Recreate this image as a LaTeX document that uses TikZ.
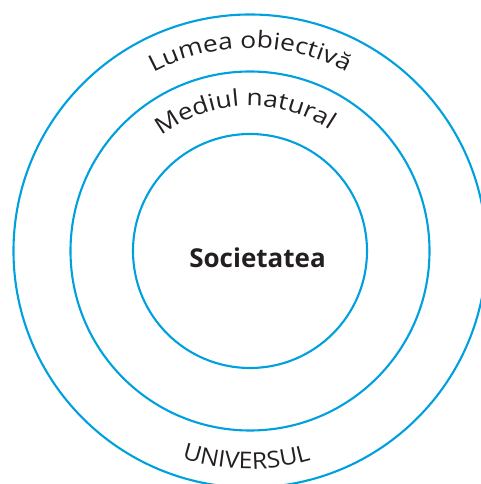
\documentclass[tikz,border=0pt]{standalone}
\usepackage{fontspec}
\setmainfont{Open Sans}
\newfontfamily\arcfam[FakeStretch=1.15]{Open Sans}
\newfontfamily\capfam[FakeStretch=1.07]{Open Sans}
\usetikzlibrary{decorations.text}
\definecolor{albastru}{RGB}{0,160,222}
\definecolor{textgri}{RGB}{35,31,32}
\newcommand{\arcfont}{\arcfam\fontsize{23}{27}\selectfont}
\newcommand{\capfont}{\capfam\fontsize{23}{27}\selectfont}

\begin{document}
\begin{tikzpicture}[x=1pt, y=1pt,
    cerc/.style={draw=albastru, line width=2.1pt},
    arctext/.style={decorate, decoration={text along path, text align=center, text color=textgri}}]
        % Margini
        \useasboundingbox (-250,-233) rectangle (231,251);
        \clip (-250,-233) rectangle (231,251);

        % Cercuri
        \draw[cerc] (0,0) circle (236.5pt);
        \draw[cerc] (0,0) circle (179.5pt);
        \draw[cerc] (0,0) circle (117pt);

        % Etichete
        \node[anchor=base, font=\bfseries\fontsize{26}{31}\selectfont, text=textgri] (soc) at (7.5,-17) {Societatea};
        \path[arctext, decoration={text={|\arcfont|Lumea obiectivă}}]
            (150:203pt) arc[start angle=150, end angle=30, radius=203pt];
        \path[arctext, decoration={text={|\arcfont|Mediul natural}}]
            (142:145pt) arc[start angle=142, end angle=42, radius=145pt];
        \path[arctext, decoration={text={|\capfont|UNIVERSUL}}]
            (229:218pt) arc[start angle=229, end angle=309, radius=218pt];
\end{tikzpicture}
\end{document}
